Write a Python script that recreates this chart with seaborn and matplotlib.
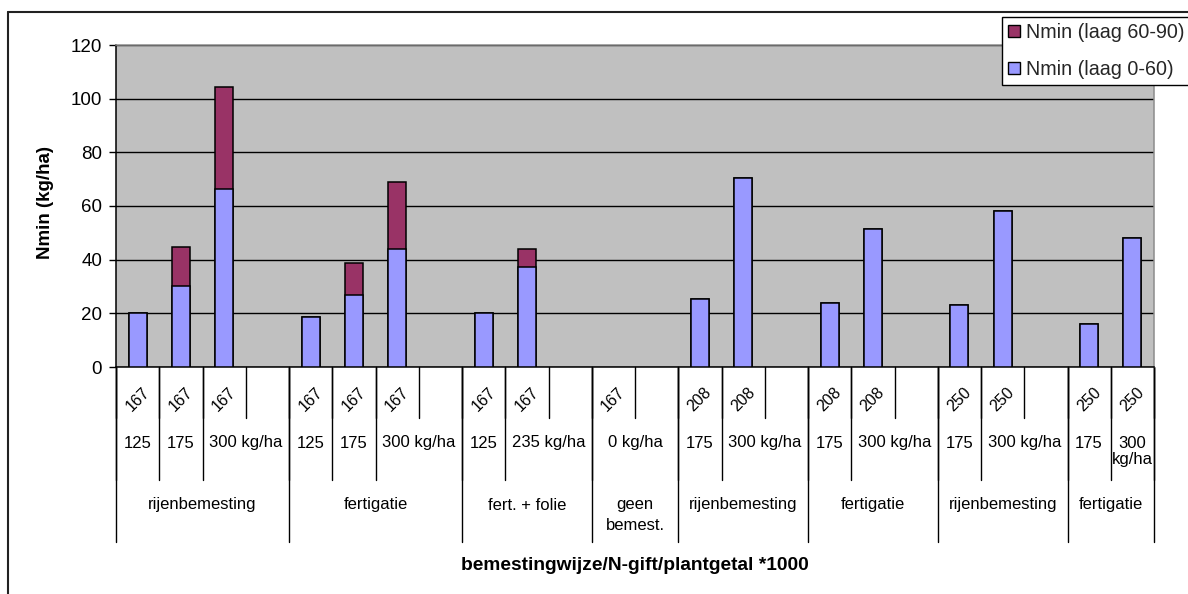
import numpy as np
import pandas as pd
import matplotlib
matplotlib.use("Agg")
import matplotlib.pyplot as plt
from matplotlib.lines import Line2D
from matplotlib.patches import Patch
from matplotlib.transforms import blended_transform_factory
import seaborn as sns

# Category levels (innermost first): plant density *1000, N dose, fertilisation method
plantgetal = ["167", "167", "167", "",
              "167", "167", "167", "",
              "167", "167", "",
              "167", "",
              "208", "208", "",
              "208", "208", "",
              "250", "250", "",
              "250", "250"]
n_gift = ["125", "175", "300 kg/ha", "",
          "125", "175", "300 kg/ha", "",
          "125", "235 kg/ha", "",
          "0 kg/ha", "",
          "175", "300 kg/ha", "",
          "175", "300 kg/ha", "",
          "175", "300 kg/ha", "",
          "175", "300\nkg/ha"]
bemestingwijze = (["rijenbemesting"] * 4 + ["fertigatie"] * 4 + ["fert. + folie"] * 3
                  + ["geen\nbemest."] * 2 + ["rijenbemesting"] * 3 + ["fertigatie"] * 3
                  + ["rijenbemesting"] * 3 + ["fertigatie"] * 2)

nan = np.nan
nmin_0_60 = [20.0, 30.3, 66.5, nan,
             18.5, 26.7, 44.1, nan,
             20.0, 37.3, nan,
             nan, nan,
             25.5, 70.6, nan,
             23.7, 51.6, nan,
             23.1, 58.0, nan,
             15.9, 48.0]
nmin_60_90 = [nan, 14.3, 38.0, nan,
              nan, 11.9, 24.7, nan,
              nan, 6.7, nan,
              nan, nan,
              nan, nan, nan,
              nan, nan, nan,
              nan, nan, nan,
              nan, nan]

BLUE = "#9999FF"
MAROON = "#993366"

W, H = 1188, 594
sns.set_theme(style="white")
plt.rcParams["font.family"] = ["Liberation Sans", "DejaVu Sans"]

n = len(plantgetal)
df = pd.DataFrame({
    "pos": np.arange(n),
    "laag_0_60": nmin_0_60,
    "laag_60_90": nmin_60_90,
})
df["totaal"] = df["laag_0_60"] + df["laag_60_90"].fillna(0)

fig = plt.figure(figsize=(W / 100, H / 100), dpi=100)
fig.patch.set_facecolor("white")


def fx(px):
    return px / W


def fy(px):
    return 1 - px / H


ax = fig.add_axes([fx(116), fy(367), fx(1154) - fx(116), fy(45) - fy(367)])
ax.set_facecolor("#C0C0C0")

order = list(range(n))
top = df.dropna(subset=["totaal"])
bottom = df.dropna(subset=["laag_0_60"])
sns.barplot(data=top, x="pos", y="totaal", order=order, color=MAROON, saturation=1,
            width=0.42, edgecolor="black", linewidth=1.1, errorbar=None, ax=ax, zorder=3)
sns.barplot(data=bottom, x="pos", y="laag_0_60", order=order, color=BLUE, saturation=1,
            width=0.42, edgecolor="black", linewidth=1.1, errorbar=None, ax=ax, zorder=4)

ax.set_xlim(-0.5, n - 0.5)
ax.set_ylim(0, 120)
ax.set_yticks(np.arange(0, 121, 20))
ax.yaxis.grid(True, color="black", linewidth=1.0, zorder=1)
ax.xaxis.grid(False)
ax.set_axisbelow(True)
ax.tick_params(axis="x", bottom=False, labelbottom=False)
ax.tick_params(axis="y", left=True, length=5, width=1, color="black",
               labelsize=13.5, pad=5, labelcolor="black")
ax.set_xlabel("")
ax.set_ylabel("")
for side in ["left", "bottom"]:
    ax.spines[side].set_color("black")
    ax.spines[side].set_linewidth(1.1)
for side in ["top", "right"]:
    ax.spines[side].set_color("#8C8C8C")
    ax.spines[side].set_linewidth(1.1)

# Multi-level category axis drawn below the plot area
tr = blended_transform_factory(ax.transData, fig.transFigure)


def vline(xd, y0, y1, color="black"):
    ax.add_line(Line2D([xd, xd], [fy(y0), fy(y1)], transform=tr, color=color,
                       linewidth=1.0, clip_on=False))


def spans(labels, parents=None):
    out = []
    start = 0
    for i in range(1, len(labels) + 1):
        new_parent = parents is not None and i < len(labels) and parents[i] != parents[i - 1]
        if i == len(labels) or labels[i] != "" or new_parent:
            out.append((start, i - 1, labels[start]))
            start = i
    return out


def group_spans(labels):
    out = []
    start = 0
    for i in range(1, len(labels) + 1):
        if i == len(labels) or labels[i] != labels[i - 1]:
            out.append((start, i - 1, labels[start]))
            start = i
    return out


# level 1: every slot boundary
for i in range(n + 1):
    vline(i - 0.5, 367, 418)
for i, lab in enumerate(plantgetal):
    if lab:
        ax.text(i, fy(399), lab, transform=tr, rotation=45, ha="center", va="center",
                fontsize=11.5, color="black")

# level 2: N dose spans
groups = group_spans(bemestingwijze)
group_id = []
for gi, (a, b, _) in enumerate(groups):
    group_id += [gi] * (b - a + 1)
for a, b, lab in spans(n_gift, group_id):
    vline(a - 0.5, 367, 480)
    ax.text((a + b) / 2, fy(435.5), lab, transform=tr, ha="center", va="top",
            fontsize=12, color="black", linespacing=1.1)
vline(n - 0.5, 367, 480)

# level 3: fertilisation method spans
for a, b, lab in groups:
    vline(a - 0.5, 367, 542)
    ax.text((a + b) / 2, fy(497.5), lab, transform=tr, ha="center", va="top",
            fontsize=12, color="black", linespacing=1.45)
vline(n - 0.5, 367, 542)

fig.text(fx(635), fy(565), "bemestingwijze/N-gift/plantgetal *1000", ha="center",
         va="center", fontsize=13.8, fontweight="bold", color="black")
fig.text(fx(45), fy(203), "Nmin (kg/ha)", ha="center", va="center", rotation=90,
         fontsize=13.5, fontweight="bold", color="black")

# chart border
fig.add_artist(Line2D([fx(8), 1.0], [fy(12), fy(12)], color="#222222", linewidth=1.5))
fig.add_artist(Line2D([fx(8), fx(8)], [fy(12), 0.0], color="#222222", linewidth=1.5))

handles = [Patch(facecolor=MAROON, edgecolor="black", linewidth=1.0),
           Patch(facecolor=BLUE, edgecolor="black", linewidth=1.0)]
leg = fig.legend(handles, ["Nmin (laag 60-90)", "Nmin (laag 0-60)"], loc="upper left",
                 bbox_to_anchor=(fx(1002), fy(17)), frameon=True, fancybox=False,
                 framealpha=1, edgecolor="black", facecolor="white", fontsize=14.2,
                 borderpad=0.31, labelspacing=0.9, handlelength=0.6, handleheight=0.6,
                 handletextpad=0.3, borderaxespad=0)
leg.get_frame().set_linewidth(1.0)
leg.set_zorder(10)

fig.savefig("out.png", dpi=100)
